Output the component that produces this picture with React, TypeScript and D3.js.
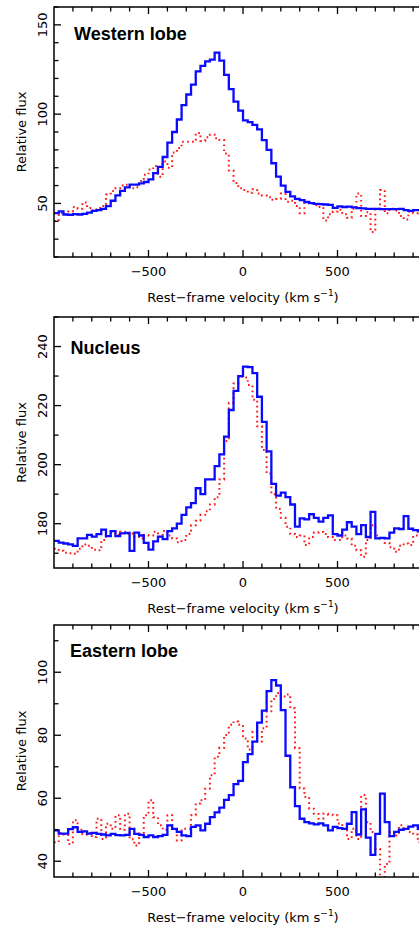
import React from "react";
import * as d3 from "d3";

// Bin centres (km/s), 25 km/s bins from -1000 to 1000
const binCenters: number[] = d3.range(-987.5, 1000, 25);

const westernBlue: number[] = [
  44.6, 45.5, 43.8, 43.6, 44.0, 43.8, 44.2, 44.8, 45.8, 46.2,
  47.0, 48.5, 51.5, 54.5, 57.0, 59.0, 60.5, 60.5, 61.2, 62.0,
  63.5, 67.0, 70.5, 76.0, 84.0, 90.0, 97.0, 105.0, 111.0, 116.5,
  124.0, 127.0, 129.5, 130.5, 134.5, 130.0, 122.0, 114.0, 107.0, 102.0,
  96.5, 95.5, 94.0, 91.5, 85.5, 80.0, 72.5, 65.0, 60.0, 56.5,
  54.0, 52.5, 51.8, 50.8, 50.2, 49.8, 49.6, 49.4, 49.2, 47.5,
  48.3, 48.0, 48.2, 47.8, 47.4, 47.2, 47.0, 47.0, 47.0, 46.8,
  46.8, 46.8, 46.8, 46.9, 46.3, 45.8, 46.2, 46.2, 46.3, 46.3,
];
const westernRed: number[] = [
  40.0, 44.5, 44.0, 45.5, 48.0, 47.0, 50.5, 47.5, 46.0, 47.5,
  48.5, 55.0, 57.0, 58.5, 60.0, 60.5, 58.5, 59.0, 62.5, 66.0,
  69.0, 71.0, 65.0, 73.5, 70.0, 78.5, 81.0, 84.5, 84.5, 84.5,
  89.5, 85.0, 87.0, 88.5, 86.5, 85.5, 78.0, 68.5, 61.5, 58.5,
  57.5, 56.0, 58.0, 55.5, 54.5, 53.5, 52.0, 52.5, 55.5, 51.0,
  51.5, 48.5, 44.5, 50.5, 50.0, 49.0, 48.0, 40.5, 44.0, 45.5,
  46.5, 44.0, 42.0, 47.0, 55.5, 43.0, 45.0, 34.0, 47.0, 57.5,
  44.5, 47.0, 46.0, 43.0, 41.0, 45.5, 44.5, 46.0, 45.0, 45.0,
];
const nucleusBlue: number[] = [
  174.2, 173.6, 173.3, 173.0, 172.5, 175.0, 175.0, 176.2, 175.6, 176.5,
  178.0, 175.8, 177.5, 175.8, 176.7, 176.9, 170.8, 177.0, 176.0, 173.5,
  171.2, 174.0, 175.6, 174.8, 177.5, 178.4, 180.0, 183.0, 185.5, 187.0,
  192.0, 190.0, 195.0, 195.0, 199.5, 203.5, 209.5, 218.5, 225.0, 230.0,
  233.2, 233.0, 231.0, 223.0, 214.5, 204.5, 193.5, 189.5, 190.5, 189.0,
  186.5, 179.0, 181.8, 181.5, 183.2, 182.0, 180.7, 182.0, 182.8, 176.5,
  176.0, 178.0, 180.5, 179.0, 176.5, 179.5, 175.5, 184.0, 175.0, 175.2,
  175.0, 177.0, 178.4, 178.2, 182.6, 178.3, 177.8, 177.5, 177.0, 177.0,
];
const nucleusRed: number[] = [
  171.5, 170.8, 170.2, 170.0, 169.8, 171.5, 173.0, 172.5, 171.2, 171.0,
  174.5, 175.8, 177.2, 176.3, 177.3, 176.5, 176.7, 175.5, 175.0, 176.2,
  176.0, 177.3, 175.6, 177.5, 176.0, 175.0, 173.7, 174.5, 176.5, 179.5,
  181.0, 183.0, 184.2, 186.5, 189.0, 195.0, 208.0, 221.0, 227.5, 229.8,
  229.5, 227.0, 222.0, 213.0, 205.0, 197.0, 190.0, 185.0, 182.0, 179.0,
  176.5, 175.5, 176.0, 172.8, 175.5, 177.0, 177.2, 176.5, 175.5, 174.5,
  174.5, 176.0, 175.0, 172.5, 171.0, 168.8, 174.5, 179.5, 176.0, 175.0,
  173.5, 172.0, 170.5, 172.5, 173.3, 172.8, 176.0, 177.3, 177.0, 176.5,
];
const easternBlue: number[] = [
  49.8, 48.8, 48.8, 50.2, 50.8, 49.3, 49.5, 48.8, 49.0, 48.7,
  48.5, 48.2, 48.7, 48.3, 48.2, 48.4, 50.3, 48.7, 48.4, 47.7,
  48.2, 47.7, 48.0, 48.4, 51.4, 50.3, 49.3, 48.2, 48.0, 50.9,
  51.4, 49.8, 51.9, 54.0, 55.5, 57.0, 59.5, 61.0, 64.5, 65.5,
  71.5, 74.0, 78.0, 84.0, 87.8, 94.0, 97.5, 95.8, 88.0, 73.5,
  63.5, 57.5, 53.5, 52.4, 52.0, 51.7, 52.0, 51.4, 49.8, 50.9,
  50.5, 50.3, 51.9, 55.6, 48.5, 56.5, 47.5, 42.0, 48.7, 61.5,
  52.4, 48.0, 49.3, 50.0, 50.3, 51.0, 51.4, 50.3, 50.5, 50.5,
];
const easternRed: number[] = [
  46.0, 49.0, 48.5, 45.5, 53.0, 50.0, 48.5, 49.0, 47.7, 53.5,
  47.1, 51.9, 50.3, 54.6, 50.0, 55.1, 47.0, 45.0, 48.7, 54.6,
  59.4, 54.0, 51.4, 50.0, 54.6, 50.3, 46.6, 50.3, 50.3, 54.6,
  58.3, 59.4, 63.1, 67.3, 73.2, 76.0, 80.1, 83.3, 84.4, 83.3,
  79.0, 75.5, 81.2, 78.0, 82.2, 87.6, 91.5, 93.4, 92.3, 92.9,
  88.6, 75.9, 63.1, 60.4, 56.7, 55.0, 53.5, 55.1, 54.8, 54.6,
  52.0, 50.3, 47.1, 50.3, 47.1, 61.0, 52.4, 49.3, 43.9, 33.0,
  39.1, 49.3, 48.2, 51.4, 50.3, 49.3, 48.5, 46.0, 47.0, 48.0,
];

const panelTitles: string[] = ["Western lobe", "Nucleus", "Eastern lobe"];
const yDomains: [number, number][] = [[20, 160], [165, 250], [35, 115]];
const yMajorTicks: number[][] = [[50, 100, 150], [180, 200, 220, 240], [40, 60, 80, 100]];
const yMinorStep: number[] = [10, 10, 10];
const xDomain: [number, number] = [-1000, 1000];
const xMajorTicks: number[] = [-500, 0, 500];
const xMinorTicks: number[] = d3.range(-900, 1000, 100);
const blueSeries: number[][] = [westernBlue, nucleusBlue, easternBlue];
const redSeries: number[][] = [westernRed, nucleusRed, easternRed];

// layout (pixels)
const W = 419;
const H = 925;
const plotLeft = 54;
const plotRight = 432;
const panelBox = [
  { top: 7, bottom: 257, tx: 74, ty: 40 },
  { top: 317, bottom: 568, tx: 70.5, ty: 354 },
  { top: 625, bottom: 877, tx: 70, ty: 657 },
];

const axisFont = "'DejaVu Sans', sans-serif";
const titleFont = "'Liberation Sans', Arial, sans-serif";

function fmt(v: number): string {
  return v < 0 ? "\u2212" + Math.abs(v) : String(v);
}

function Panel({ i }: { i: number }) {
  const box = panelBox[i];
  const x = d3.scaleLinear().domain(xDomain).range([plotLeft, plotRight]);
  const y = d3.scaleLinear().domain(yDomains[i]).range([box.bottom, box.top]);
  const mk = (vals: number[]) => {
    const pts: [number, number][] = [[xDomain[0], vals[0]]];
    binCenters.forEach((c, k) => pts.push([c, vals[k]]));
    pts.push([xDomain[1], vals[vals.length - 1]]);
    const gen = d3
      .line<[number, number]>()
      .x((d) => x(d[0]))
      .y((d) => y(d[1]))
      .curve(d3.curveStep);
    return gen(pts) as string;
  };
  const clipId = `clip${i}`;
  const [y0, y1] = yDomains[i];
  const yMinor = d3
    .range(Math.ceil(y0 / yMinorStep[i]) * yMinorStep[i], y1 + 0.001, yMinorStep[i])
    .filter((v) => !yMajorTicks[i].includes(v));
  const majLen = 7;
  const minLen = 4.5;
  const tickStroke = { stroke: "#000", strokeWidth: 1.3 };
  return (
    <g>
      <defs>
        <clipPath id={clipId}>
          <rect x={plotLeft} y={box.top} width={plotRight - plotLeft} height={box.bottom - box.top} />
        </clipPath>
      </defs>
      <g clipPath={`url(#${clipId})`}>
        <path d={mk(redSeries[i])} fill="none" stroke="#ff1a1a" strokeWidth={2} strokeDasharray="1.7 3.3" />
        <path d={mk(blueSeries[i])} fill="none" stroke="#0a0aff" strokeWidth={2.3} />
      </g>
      {xMinorTicks.map((v) => {
        const major = xMajorTicks.includes(v);
        const L = major ? majLen : minLen;
        return (
          <g key={`xt${v}`}>
            <line x1={x(v)} x2={x(v)} y1={box.bottom} y2={box.bottom - L} {...tickStroke} />
            <line x1={x(v)} x2={x(v)} y1={box.top} y2={box.top + L} {...tickStroke} />
          </g>
        );
      })}
      {yMajorTicks[i].map((v) => (
        <line key={`ym${v}`} x1={plotLeft} x2={plotLeft + majLen} y1={y(v)} y2={y(v)} {...tickStroke} />
      ))}
      {yMinor.map((v) => (
        <line key={`yn${v}`} x1={plotLeft} x2={plotLeft + minLen} y1={y(v)} y2={y(v)} {...tickStroke} />
      ))}
      <rect
        x={plotLeft}
        y={box.top}
        width={plotRight - plotLeft}
        height={box.bottom - box.top}
        fill="none"
        stroke="#000"
        strokeWidth={1.5}
      />
      {xMajorTicks.map((v) => (
        <text key={`xl${v}`} x={x(v)} y={box.bottom + 18.5} textAnchor="middle" fontFamily={axisFont} fontSize={13}>
          {fmt(v)}
        </text>
      ))}
      {yMajorTicks[i].map((v) => (
        <text
          key={`yl${v}`}
          transform={`translate(47,${y(v)}) rotate(-90)`}
          textAnchor="middle"
          fontFamily={axisFont}
          fontSize={13}
        >
          {fmt(v)}
        </text>
      ))}
      <text
        x={(plotLeft + plotRight) / 2}
        y={box.bottom + 45}
        textAnchor="middle"
        fontFamily={axisFont}
        fontSize={13}
      >
        Rest{"\u2212"}frame velocity (km s
        <tspan fontSize={9} dy={-6}>
          {"\u2212"}1
        </tspan>
        <tspan dy={6}>)</tspan>
      </text>
      <text
        transform={`translate(26,${(box.top + box.bottom) / 2}) rotate(-90)`}
        textAnchor="middle"
        fontFamily={axisFont}
        fontSize={13}
      >
        Relative flux
      </text>
      <text x={box.tx} y={box.ty} fontFamily={titleFont} fontWeight="bold" fontSize={18}>
        {panelTitles[i]}
      </text>
    </g>
  );
}

export default function App() {
  return (
    <svg width={W} height={H} style={{ position: "absolute", left: 0, top: 0, background: "#fff" }}>
      <rect x={0} y={0} width={W} height={H} fill="#fff" />
      {panelTitles.map((_, i) => (
        <Panel key={i} i={i} />
      ))}
    </svg>
  );
}
